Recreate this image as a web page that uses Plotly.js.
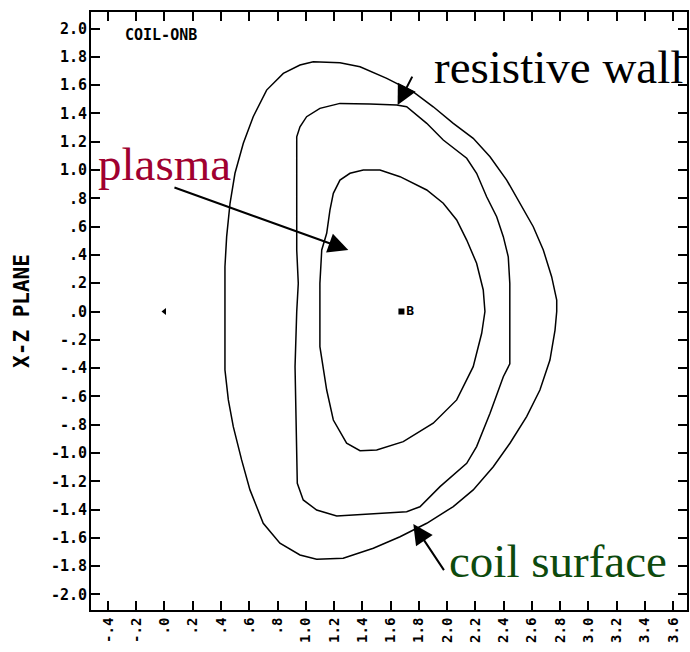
<!DOCTYPE html>
<html>
<head>
<meta charset="utf-8">
<script src="https://cdn.plot.ly/plotly-3.0.1.min.js"></script>
<style>html,body{margin:0;padding:0;background:#fff;}#plot{width:690px;height:652px;}</style>
</head>
<body>
<div id="plot"></div>
<script>
// Coil surface (outer contour)
const coilX = [2.776,2.776,2.740,2.681,2.610,2.516,2.422,2.304,2.185,2.044,1.902,1.761,1.573,1.384,1.242,1.053,0.959,0.841,0.723,0.628,0.558,0.499,0.464,0.440,0.428,0.428,0.428,0.452,0.487,0.546,0.605,0.699,0.817,0.959,1.077,1.265,1.478,1.667,1.856,2.044,2.185,2.327,2.445,2.563,2.657,2.728,2.764,2.776];
const coilY = [0.0,0.08,0.246,0.435,0.599,0.765,0.929,1.094,1.224,1.330,1.447,1.553,1.648,1.730,1.758,1.765,1.742,1.683,1.565,1.377,1.189,0.977,0.765,0.529,0.317,0.0,-0.413,-0.625,-0.814,-1.049,-1.261,-1.497,-1.638,-1.721,-1.751,-1.744,-1.673,-1.592,-1.497,-1.379,-1.261,-1.097,-0.931,-0.743,-0.555,-0.343,-0.131,0.0];

// Resistive wall (middle contour)
const wallX = [2.444,2.444,2.433,2.398,2.351,2.280,2.209,2.139,1.973,1.856,1.714,1.643,1.454,1.242,1.100,1.006,0.959,0.936,0.936,0.936,0.947,0.936,0.924,0.936,0.940,0.982,1.077,1.219,1.502,1.714,1.808,1.950,2.139,2.209,2.304,2.398,2.444,2.444];
const wallY = [0.0,0.199,0.387,0.529,0.670,0.811,0.977,1.083,1.212,1.330,1.447,1.459,1.466,1.471,1.436,1.377,1.306,1.235,0.906,0.435,0.199,0.0,-0.390,-0.861,-1.214,-1.332,-1.403,-1.445,-1.426,-1.415,-1.380,-1.238,-1.073,-0.955,-0.719,-0.461,-0.370,0.0];

// Plasma boundary (inner contour)
const plasmaX = [2.268,2.256,2.209,2.139,2.068,1.973,1.856,1.667,1.525,1.407,1.313,1.242,1.195,1.171,1.148,1.113,1.100,1.100,1.100,1.148,1.195,1.289,1.384,1.502,1.690,1.902,2.068,2.185,2.245,2.268];
const plasmaY = [0.0,0.152,0.341,0.505,0.647,0.765,0.859,0.953,1.000,1.000,0.977,0.929,0.835,0.717,0.553,0.435,0.199,0.0,-0.249,-0.555,-0.767,-0.931,-0.984,-0.979,-0.920,-0.790,-0.625,-0.390,-0.154,0.0];

// Markers on the midplane
const originX = [0.0], originY = [0.0];
const axisX = [1.677], axisY = [0.0];

// Tick labels
const xTickVals = [-0.4,-0.2,0.0,0.2,0.4,0.6,0.8,1.0,1.2,1.4,1.6,1.8,2.0,2.2,2.4,2.6,2.8,3.0,3.2,3.4,3.6];
const xTickText = ["-.4","-.2",".0",".2",".4",".6",".8","1.0","1.2","1.4","1.6","1.8","2.0","2.2","2.4","2.6","2.8","3.0","3.2","3.4","3.6"];
const yTickVals = [2.0,1.8,1.6,1.4,1.2,1.0,0.8,0.6,0.4,0.2,0.0,-0.2,-0.4,-0.6,-0.8,-1.0,-1.2,-1.4,-1.6,-1.8,-2.0];
const yTickText = ["2.0","1.8","1.6","1.4","1.2","1.0",".8",".6",".4",".2",".0","-.2","-.4","-.6","-.8","-1.0","-1.2","-1.4","-1.6","-1.8","-2.0"];

const mono = "DejaVu Sans Mono";
const serif = "Liberation Serif, Times New Roman, serif";
const lineStyle = {color: "black", width: 1.5};

const traces = [
  {x: coilX, y: coilY, mode: "lines", line: lineStyle, hoverinfo: "skip", showlegend: false},
  {x: wallX, y: wallY, mode: "lines", line: lineStyle, hoverinfo: "skip", showlegend: false},
  {x: plasmaX, y: plasmaY, mode: "lines", line: lineStyle, hoverinfo: "skip", showlegend: false},
  {x: originX, y: originY, mode: "markers", marker: {symbol: "triangle-left", size: 6, color: "black"}, hoverinfo: "skip", showlegend: false},
  {x: axisX, y: axisY, mode: "markers+text", marker: {symbol: "square", size: 6, color: "black"},
   text: ["B"], textposition: "middle right", textfont: {family: mono, size: 13, color: "black", weight: "bold"}, hoverinfo: "skip", showlegend: false}
];

const axisCommon = {
  showgrid: false, zeroline: false, showline: true, linecolor: "black", linewidth: 2,
  mirror: "ticks", ticks: "inside", ticklen: 9, tickwidth: 2, tickcolor: "black",
  tickmode: "array", fixedrange: true
};

const layout = {
  width: 690, height: 652,
  margin: {l: 91, r: 3, t: 12, b: 42},
  paper_bgcolor: "white", plot_bgcolor: "white",
  xaxis: Object.assign({}, axisCommon, {
    range: [-0.520, 3.698], tickvals: xTickVals, ticktext: xTickText,
    tickangle: -90, tickfont: {family: mono, size: 14, color: "black", weight: "bold"}
  }),
  yaxis: Object.assign({}, axisCommon, {
    range: [-2.110, 2.117], tickvals: yTickVals, ticktext: yTickText,
    tickfont: {family: mono, size: 15, color: "black", weight: "bold"},
    ticklabelstandoff: -1,
    title: {text: "X-Z PLANE", font: {family: mono, size: 21, color: "black", weight: "bold"}, standoff: 16}
  }),
  annotations: [
    {xref: "paper", yref: "paper", x: 0.054, y: 0.962, xanchor: "left", yanchor: "middle", showarrow: false,
     text: "COIL-ONB", font: {family: mono, size: 15, color: "black", weight: "bold"}},
    {xref: "x", yref: "y", x: 0.0, y: 1.04, xanchor: "center", yanchor: "middle", showarrow: false,
     text: "plasma", font: {family: serif, size: 47, color: "#a00030"}},
    {xref: "x", yref: "y", x: 1.893, y: 1.725, xanchor: "left", yanchor: "middle", showarrow: false,
     text: "resistive wall", font: {family: serif, size: 47, color: "black"}},
    {xref: "x", yref: "y", x: 2.000, y: -1.765, xanchor: "left", yanchor: "middle", showarrow: false,
     text: "coil surface", font: {family: serif, size: 47, color: "#0d4a0d"}},
    {xref: "x", yref: "y", axref: "x", ayref: "y", x: 1.301, y: 0.435, ax: 0.060, ay: 0.880, text: "",
     showarrow: true, arrowhead: 2, arrowsize: 2, arrowwidth: 2, arrowcolor: "black", standoff: 0},
    {xref: "x", yref: "y", axref: "x", ayref: "y", x: 1.650, y: 1.459, ax: 1.759, ay: 1.671, text: "",
     showarrow: true, arrowhead: 2, arrowsize: 2, arrowwidth: 2, arrowcolor: "black", standoff: 0},
    {xref: "x", yref: "y", axref: "x", ayref: "y", x: 1.761, y: -1.502, ax: 1.985, ay: -1.839, text: "",
     showarrow: true, arrowhead: 2, arrowsize: 2, arrowwidth: 2, arrowcolor: "black", standoff: 0}
  ]
};

Plotly.newPlot("plot", traces, layout, {staticPlot: true, displayModeBar: false});
</script>
</body>
</html>
